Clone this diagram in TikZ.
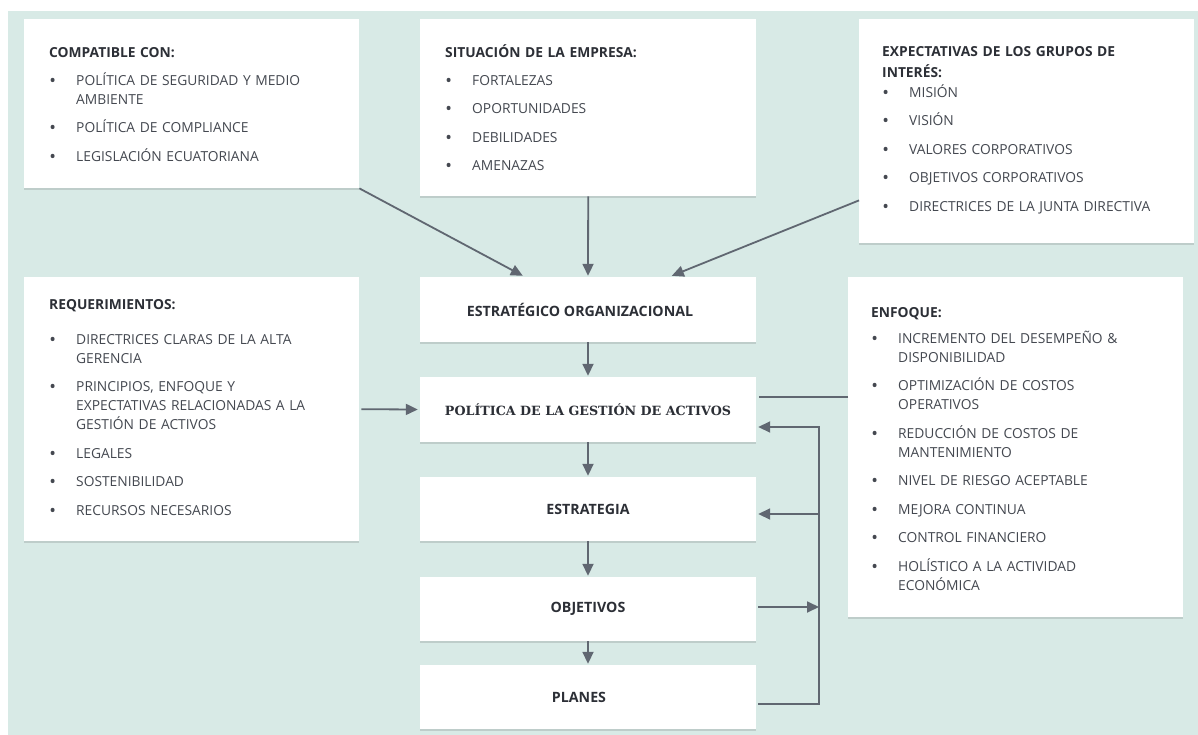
\documentclass[tikz,border=0pt]{standalone}
\usepackage{fontspec}
\setmainfont{Open Sans}
\newfontfamily\polfont{DejaVu Serif}
\usetikzlibrary{arrows.meta,shadows,calc}

\definecolor{bgmint}{RGB}{216,234,230}
\definecolor{linegray}{RGB}{96,103,113}
\definecolor{itemgray}{RGB}{68,72,80}
\definecolor{headgray}{RGB}{44,47,54}

\newlength\bulletind
\setlength\bulletind{27pt}
% line break that stays inside the current paragraph
\newcommand\nl{\hfil\break}
% heading line of a list box (fixed first-line height)
\newcommand\hd[1]{\noindent\rule{0pt}{15pt}\textbf{\color{headgray}#1}\par}
% one bulleted item with hanging indent
\newcommand\itm[1]{\noindent\hangindent=\bulletind\hangafter=1\makebox[\bulletind][l]{\hspace{1pt}\textbf{\textbullet}}#1\par}

\tikzset{
  box/.style={fill=white, inner sep=0pt,
    drop shadow={shadow xshift=0pt, shadow yshift=-1.5pt, opacity=0.18, fill=black!70}},
  listtxt/.style={anchor=north west, inner sep=0pt, text width=330pt, align=left,
    text=itemgray, font={\fontsize{13.8}{19}\selectfont\setlength\parskip{9.5pt}}},
  title/.style={text=headgray, font=\bfseries\fontsize{14.2}{16}\selectfont},
  flow/.style={draw=linegray, line width=1.8pt, -{Triangle[length=12pt,width=11pt]}},
  plain/.style={draw=linegray, line width=1.8pt},
}

\begin{document}
\begin{tikzpicture}[x=1pt, y=-1pt]
\useasboundingbox (0,0) rectangle (1198,735);
\fill[bgmint] (8,11) rectangle (1198,735);

% ---- input boxes ----
\node[box, anchor=north west, minimum width=335pt, minimum height=169pt] (comp) at (24,19) {};
\node[box, anchor=north west, minimum width=336pt, minimum height=177pt] (sit) at (420,19) {};
\node[box, anchor=north west, minimum width=335pt, minimum height=224pt] (exp) at (859,19) {};
\node[box, anchor=north west, minimum width=335pt, minimum height=264pt] (req) at (24,277) {};
\node[box, anchor=north west, minimum width=335pt, minimum height=340pt] (enf) at (848,277) {};

\node[listtxt] (compt) at (49,42) {%
  \hd{COMPATIBLE CON:}\vspace{-0.5pt}
  \itm{POLÍTICA DE SEGURIDAD Y MEDIO\nl AMBIENTE}
  \itm{POLÍTICA DE COMPLIANCE}
  \itm{LEGISLACIÓN ECUATORIANA}};

\node[listtxt] (sitt) at (445,42) {%
  \hd{SITUACIÓN DE LA EMPRESA:}\vspace{-0.5pt}
  \itm{FORTALEZAS}
  \itm{OPORTUNIDADES}
  \itm{DEBILIDADES}
  \itm{AMENAZAS}};

\node[listtxt] (expt) at (882,41) {%
  \hd{EXPECTATIVAS DE LOS GRUPOS DE\\[2pt]INTERÉS:}\vspace{-8.5pt}
  \itm{MISIÓN}
  \itm{VISIÓN}
  \itm{VALORES CORPORATIVOS}
  \itm{OBJETIVOS CORPORATIVOS}
  \itm{DIRECTRICES DE LA JUNTA DIRECTIVA}};

\node[listtxt] (reqt) at (49,294) {%
  \hd{REQUERIMIENTOS:}\vspace{6.5pt}
  \itm{DIRECTRICES CLARAS DE LA ALTA\nl GERENCIA}
  \itm{PRINCIPIOS, ENFOQUE Y\nl EXPECTATIVAS RELACIONADAS A LA\nl GESTIÓN DE ACTIVOS}
  \itm{LEGALES}
  \itm{SOSTENIBILIDAD}
  \itm{RECURSOS NECESARIOS}};

\node[listtxt] (enft) at (871,302) {%
  \hd{ENFOQUE:}\vspace{-2.5pt}
  \itm{INCREMENTO DEL DESEMPEÑO \&\nl DISPONIBILIDAD}
  \itm{OPTIMIZACIÓN DE COSTOS\nl OPERATIVOS}
  \itm{REDUCCIÓN DE COSTOS DE\nl MANTENIMIENTO}
  \itm{NIVEL DE RIESGO ACEPTABLE}
  \itm{MEJORA CONTINUA}
  \itm{CONTROL FINANCIERO}
  \itm{HOLÍSTICO A LA ACTIVIDAD\nl ECONÓMICA}};

% ---- central chain ----
\node[box, title, minimum width=336pt, minimum height=65pt] (est) at (588,309.5) {\hspace{-16pt}ESTRATÉGICO ORGANIZACIONAL};
\node[box, minimum width=336pt, minimum height=65pt, text=headgray,
      font=\polfont\bfseries\fontsize{12.7}{15}\selectfont] (pol) at (588,409.5) {POLÍTICA DE LA GESTIÓN DE ACTIVOS};
\node[box, title, minimum width=336pt, minimum height=64pt] (estg) at (588,509) {ESTRATEGIA};
\node[box, title, minimum width=336pt, minimum height=64pt] (obj) at (588,609) {OBJETIVOS};
\node[box, title, minimum width=336pt, minimum height=64pt] (plan) at (588,697) {\hspace{-18pt}PLANES};

% ---- connectors into the strategic box ----
\draw[flow] (comp.south east) -- ($(est.north west)+(103,-1)$);
\draw[flow] (sit.south) -- ($(est.north)+(0,-1)$);
\draw[flow] ($(exp.south west)+(0,-43)$) -- ($(est.north west)+(252,-1)$);

% ---- chain arrows ----
\draw[flow] (est.south) -- ($(pol.north)+(0,-1)$);
\draw[flow] (pol.south) -- ($(estg.north)+(0,-1)$);
\draw[flow] (estg.south) -- ($(obj.north)+(0,-1)$);
\draw[flow] (obj.south) -- ($(plan.north)+(0,-1)$);

% ---- side inputs to the policy ----
\draw[flow] ($(req.east)+(2,0)$) -- ($(pol.west)+(-2,0)$);
\draw[plain] ($(enf.west|-pol.north)+(0,20)$) -- ($(pol.north east)+(3,20)$);

% ---- feedback loop ----
\coordinate (busT) at (819,427);
\coordinate (busE) at (819,514);
\coordinate (busO) at (819,607);
\coordinate (busB) at (819,704);
\draw[flow] ($(plan.east)+(2,7)$) -- (busB) -- (busT) -- ($(pol.east|-busT)+(2,0)$);
\draw[flow] (busE) -- ($(estg.east|-busE)+(2,0)$);
\draw[flow] ($(obj.east|-busO)+(2,0)$) -- (busO);
\end{tikzpicture}
\end{document}
